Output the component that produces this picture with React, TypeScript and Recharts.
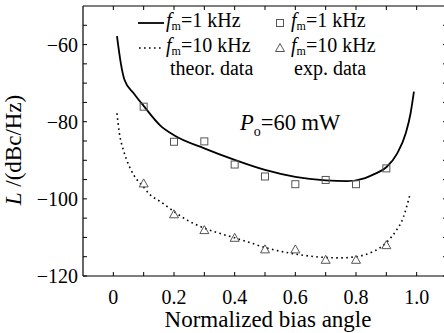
import {
  ComposedChart,
  Customized,
  Line,
  Scatter,
  XAxis,
  YAxis,
} from "recharts";

// theoretical curves, fm = 1 kHz (solid) and fm = 10 kHz (dotted)
const theor1kX = [0.012, 0.025, 0.037, 0.067, 0.1, 0.155, 0.2, 0.3, 0.4, 0.5, 0.6, 0.7, 0.77, 0.83, 0.86, 0.9, 0.936, 0.964, 0.98, 0.991];
const theor1kL = [-57.8, -65.0, -69.2, -72.6, -75.9, -81.0, -83.5, -86.9, -89.9, -92.5, -94.3, -95.2, -95.4, -94.6, -93.6, -91.8, -88.2, -83.0, -77.8, -72.2];

const theor10kX = [0.012, 0.02, 0.033, 0.054, 0.067, 0.1, 0.122, 0.155, 0.2, 0.243, 0.3, 0.353, 0.4, 0.452, 0.5, 0.551, 0.6, 0.7, 0.75, 0.8, 0.85, 0.881, 0.903, 0.93, 0.957, 0.973, 0.979];
const theor10kL = [-77.8, -83.0, -87.3, -91.8, -93.8, -97.0, -99.0, -100.7, -103.3, -105.5, -107.6, -109.0, -110.1, -111.4, -112.6, -113.6, -114.3, -115.2, -115.3, -115.0, -113.9, -112.6, -111.1, -108.5, -104.6, -100.3, -98.6];

// experimental data
const expX = [0.1, 0.2, 0.3, 0.4, 0.5, 0.6, 0.7, 0.8, 0.9];
const exp1kL = [-76.1, -85.2, -85.1, -91.1, -94.2, -96.2, -95.1, -96.2, -92.1];
const exp10kL = [-96.0, -104.0, -108.1, -110.1, -113.1, -113.1, -115.8, -115.8, -112.0];

const xTicks = [0, 0.1, 0.2, 0.3, 0.4, 0.5, 0.6, 0.7, 0.8, 0.9, 1.0];
const xLabels = ["0", "", "0.2", "", "0.4", "", "0.6", "", "0.8", "", "1.0"];
const yTicks = [-120, -115, -110, -105, -100, -95, -90, -85, -80, -75, -70, -65, -60, -55];
const yLabelled = [-60, -80, -100, -120];

const theor1k = theor1kX.map((x, i) => ({ x, L: theor1kL[i] }));
const theor10k = theor10kX.map((x, i) => ({ x, L: theor10kL[i] }));
const exp1k = expX.map((x, i) => ({ x, L: exp1kL[i] }));
const exp10k = expX.map((x, i) => ({ x, L: exp10kL[i] }));

const FONT = "'Liberation Serif', 'Times New Roman', serif";
const MARK = "#555";

function SquareMark({ cx, cy }: { cx?: number; cy?: number }) {
  if (cx == null || cy == null) return null;
  return <rect x={cx - 3.5} y={cy - 3.5} width={7} height={7} fill="none" stroke={MARK} strokeWidth={1} />;
}

function TriangleMark({ cx, cy }: { cx?: number; cy?: number }) {
  if (cx == null || cy == null) return null;
  return (
    <path
      d={`M${cx},${cy - 4.5}L${cx + 4.5},${cy + 3.5}L${cx - 4.5},${cy + 3.5}Z`}
      fill="none"
      stroke={MARK}
      strokeWidth={1}
    />
  );
}

function FmLabel({ x, y, value }: { x: number; y: number; value: string }) {
  return (
    <text x={x} y={y} fontFamily={FONT} fontSize={20} fill="#000">
      <tspan fontStyle="italic">f</tspan>
      <tspan fontSize={12} dy={3}>m</tspan>
      <tspan dy={-3}>{`=${value} kHz`}</tspan>
    </text>
  );
}

function Overlay() {
  return (
    <g>
      <line x1={138} y1={23} x2={164} y2={23} stroke="#000" strokeWidth={1.8} />
      <FmLabel x={166} y={27} value="1" />
      <SquareMark cx={280} cy={23} />
      <FmLabel x={291} y={27} value="1" />
      <line x1={139} y1={48} x2={163} y2={48} stroke="#000" strokeWidth={1.6} strokeDasharray="1.6 3.4" />
      <FmLabel x={166} y={52} value="10" />
      <TriangleMark cx={280} cy={48} />
      <FmLabel x={291} y={52} value="10" />
      <text x={170} y={75} fontFamily={FONT} fontSize={20} fill="#000">theor. data</text>
      <text x={294} y={75} fontFamily={FONT} fontSize={20} fill="#000">exp. data</text>

      <text x={240} y={130} fontFamily={FONT} fontSize={22.5} fill="#000">
        <tspan fontStyle="italic">P</tspan>
        <tspan fontSize={14} dy={6}>o</tspan>
        <tspan dy={-6}>=60 mW</tspan>
      </text>

      <text x={268} y={327} textAnchor="middle" fontFamily={FONT} fontSize={23} fill="#000">
        Normalized bias angle
      </text>
      <text
        transform="translate(21,150) rotate(-90)"
        textAnchor="middle"
        fontFamily={FONT}
        fontSize={23}
        fill="#000"
      >
        <tspan fontStyle="italic">L</tspan>
        <tspan> /(dBc/Hz)</tspan>
      </text>
    </g>
  );
}

const axisLine = { stroke: "#000", strokeWidth: 1.2 };
const tickLine = { stroke: "#000", strokeWidth: 1 };

export default function App() {
  return (
    <div style={{ position: "absolute", left: 0, top: 0, width: 444, height: 333, overflow: "hidden", background: "#fff" }}>
      <ComposedChart width={460} height={333} margin={{ top: 0, right: 0, bottom: 0, left: 0 }}>
        <XAxis
          xAxisId="b"
          type="number"
          dataKey="x"
          domain={[-0.1, 1.1]}
          allowDataOverflow
          ticks={xTicks}
          interval={0}
          height={57}
          axisLine={axisLine}
          tickLine={tickLine}
          tickSize={-4}
          tickMargin={18}
          tickFormatter={(v: number) => xLabels[xTicks.indexOf(v)] ?? ""}
          tick={{ fontFamily: FONT, fontSize: 20, fill: "#000" }}
        />
        <XAxis
          xAxisId="t"
          orientation="top"
          type="number"
          dataKey="x"
          domain={[-0.1, 1.1]}
          allowDataOverflow
          ticks={xTicks}
          interval={0}
          height={6}
          axisLine={axisLine}
          tickLine={tickLine}
          tickSize={-4}
          tickFormatter={() => ""}
        />
        <YAxis
          yAxisId="l"
          type="number"
          domain={[-120, -50]}
          allowDataOverflow
          ticks={yTicks}
          interval={0}
          width={83}
          axisLine={axisLine}
          tickLine={tickLine}
          tickSize={-4}
          tickMargin={9}
          tickFormatter={(v: number) => (yLabelled.includes(v) ? `\u2212${Math.abs(v)}` : "")}
          tick={{ fontFamily: FONT, fontSize: 20, fill: "#000" }}
        />
        <YAxis
          yAxisId="r"
          orientation="right"
          type="number"
          domain={[-120, -50]}
          allowDataOverflow
          ticks={yTicks}
          interval={0}
          width={13}
          axisLine={axisLine}
          tickLine={tickLine}
          tickSize={-4}
          tickFormatter={() => ""}
        />
        <Line
          xAxisId="b"
          yAxisId="l"
          data={theor1k}
          dataKey="L"
          type="monotone"
          stroke="#000"
          strokeWidth={1.8}
          dot={false}
          activeDot={false}
          isAnimationActive={false}
        />
        <Line
          xAxisId="b"
          yAxisId="l"
          data={theor10k}
          dataKey="L"
          type="monotone"
          stroke="#000"
          strokeWidth={1.6}
          strokeDasharray="1.6 3.4"
          dot={false}
          activeDot={false}
          isAnimationActive={false}
        />
        <Scatter xAxisId="b" yAxisId="l" data={exp1k} dataKey="L" shape={<SquareMark />} isAnimationActive={false} />
        <Scatter xAxisId="b" yAxisId="l" data={exp10k} dataKey="L" shape={<TriangleMark />} isAnimationActive={false} />
        <Customized component={<Overlay />} />
      </ComposedChart>
    </div>
  );
}
